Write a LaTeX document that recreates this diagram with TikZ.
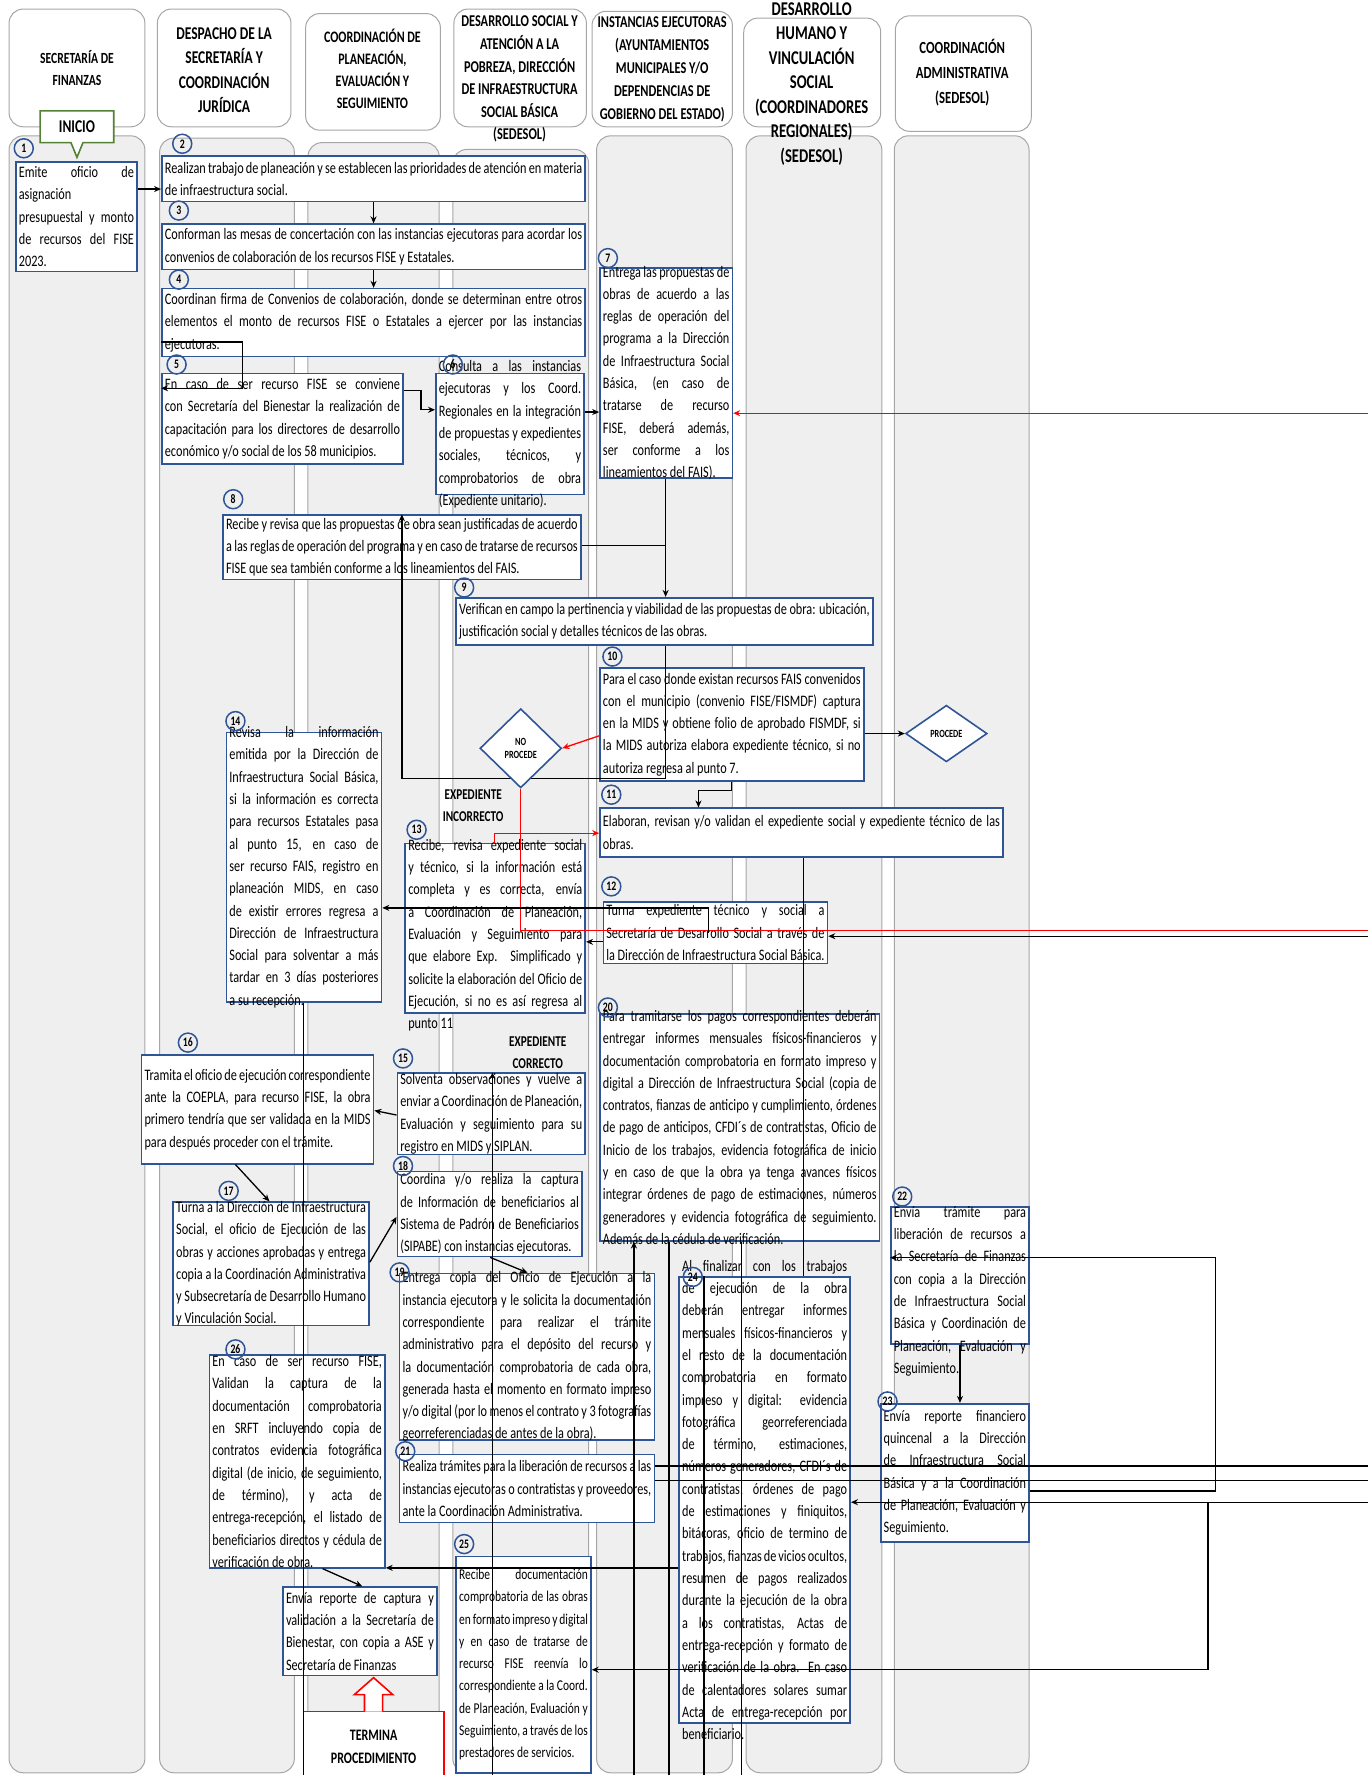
\documentclass[tikz,border=0pt]{standalone}
\usepackage{fontspec}
\setmainfont{Carlito}[FakeStretch=0.765]
\newfontfamily\hdrfam{Carlito}[FakeStretch=0.75]
\usetikzlibrary{shapes.geometric,shapes.callouts,arrows.meta}
\definecolor{boxblue}{HTML}{2F5597}
\definecolor{lanefill}{HTML}{EFEFEF}
\definecolor{laneborder}{HTML}{A6A6A6}
\definecolor{inigreen}{HTML}{548235}
\def\UU{1.1316pt}
\newcommand\btxt{\fontsize{16}{22.3}\selectfont\hyphenpenalty=10000 \exhyphenpenalty=0 \tolerance=9999 \emergencystretch=8pt }
\newcommand\hfnt[2]{\hdrfam\bfseries\fontsize{#1}{#2}\selectfont}
\newcommand\mkboxs[7]{%
  \node[boxst, minimum width={(#4-#2)*\UU}, minimum height={(#5-#3)*\UU}] (#1) at ({(#2+#4)/2},{(#3+#5)/2}) {};
  \node[txtst, text width={(#4-#2)*\UU-6pt}, yshift=#6] (#1t) at (#1.center) {#7};}
\newcommand\mkbox[6]{\mkboxs{#1}{#2}{#3}{#4}{#5}{0pt}{#6}}
\pgfdeclarelayer{top}
\pgfsetlayers{main,top}
\begin{document}
\begin{tikzpicture}[x=1.1316pt,y=-1.1316pt,
  lane/.style={draw=laneborder, fill=lanefill, rounded corners=14pt, line width=1pt},
  hdr/.style={draw=laneborder, fill=white, rounded corners=14pt, line width=1pt},
  hdrtxt/.style={align=center, inner sep=0pt},
  boxst/.style={draw=boxblue, fill=white, line width=1.6pt, inner sep=0pt},
  txtst/.style={align=justify, inner sep=0pt, font=\btxt},
  numc/.style={circle, draw=boxblue, line width=1.5pt, inner sep=0pt, minimum size=19pt, font=\hfnt{13}{13}},
  conn/.style={line width=1.3pt, draw=black},
  arr/.style={conn, -{Stealth[length=7pt,width=6pt]}},
  rconn/.style={line width=1.3pt, draw=red},
  rarr/.style={rconn, -{Stealth[length=7pt,width=6pt]}},
  lbl/.style={align=center, inner sep=0pt, font=\hfnt{15}{22}},
  dia/.style={diamond, draw=boxblue, fill=white, line width=1.6pt, inner sep=0pt, align=center, font=\hfnt{11}{13}}
]
\useasboundingbox (0,0) rectangle (1208,1568);
% lanes
\draw[lane] (8,120) rectangle (128,1566);
\draw[lane] (141,122) rectangle (260,1566);
\draw[lane] (272,126) rectangle (388,1566);
\draw[lane] (400,132) rectangle (520,1566);
\draw[lane] (527,120) rectangle (647,1566);
\draw[lane] (659,120) rectangle (779,1566);
\draw[lane] (790,120) rectangle (909,1566);
% headers
\draw[hdr] (8,8) rectangle (128,112);
\draw[hdr] (139,8) rectangle (257,112);
\draw[hdr] (270,12) rectangle (389,115);
\draw[hdr] (401,8) rectangle (518,112);
\draw[hdr] (523,10) rectangle (647,112);
\draw[hdr] (657,16) rectangle (778,112);
\draw[hdr] (791,14) rectangle (911,116);
\node[hdrtxt, font=\hfnt{15.5}{22.6}] (h1) at (68,60) {SECRETARÍA DE\\FINANZAS};
\node[hdrtxt, font=\hfnt{18}{24.1}] (h2) at (198,62) {DESPACHO DE LA\\SECRETARÍA Y\\COORDINACIÓN\\JURÍDICA};
\node[hdrtxt, font=\hfnt{16}{21.9}] (h3) at (329,61) {COORDINACIÓN DE\\PLANEACIÓN,\\EVALUACIÓN Y\\SEGUIMIENTO};
\node[hdrtxt, font=\hfnt{16.5}{22.6}] (h4) at (459,70) {DESARROLLO SOCIAL Y\\ATENCIÓN A LA\\POBREZA, DIRECCIÓN\\DE INFRAESTRUCTURA\\SOCIAL BÁSICA\\(SEDESOL)};
\node[hdrtxt, font=\hfnt{16.5}{22.9}] (h5) at (585,61) {INSTANCIAS EJECUTORAS\\(AYUNTAMIENTOS\\MUNICIPALES Y/O\\DEPENDENCIAS DE\\GOBIERNO DEL ESTADO)};
\node[hdrtxt, font=\hfnt{19.5}{24.5}] (h6) at (717,74) {DESARROLLO\\HUMANO Y\\VINCULACIÓN\\SOCIAL\\(COORDINADORES\\REGIONALES)\\(SEDESOL)};
\node[hdrtxt, font=\hfnt{17}{24.9}] (h7) at (850,64) {COORDINACIÓN\\ADMINISTRATIVA\\(SEDESOL)};
% boxes
\mkbox{b1}{14}{143}{121}{240}{Emite oficio de\linebreak asignación\\presupuestal y monto\linebreak de recursos del FISE\linebreak 2023.}
\mkbox{b2}{143}{138}{517}{178}{Realizan trabajo de planeación y se establecen las prioridades de atención en materia de infraestructura social.}
\mkbox{b3}{143}{198}{517}{238}{Conforman las mesas de concertación con las instancias ejecutoras para acordar los convenios de colaboración de los recursos FISE y Estatales.}
\mkbox{b4}{143}{255}{517}{315}{Coordinan firma de Convenios de colaboración, donde se determinan entre otros elementos el monto de recursos FISE o Estatales a ejercer por las instancias ejecutoras.}
\mkbox{b5}{143}{330}{356}{410}{En caso de ser recurso FISE se conviene con Secretaría del Bienestar la realización de capacitación para los directores de desarrollo económico y/o social de los 58 municipios.}
\mkbox{b6}{385}{330}{516}{437}{Consulta a las instancias ejecutoras y los Coord. Regionales en la integración de propuestas y expedientes sociales, técnicos, y comprobatorios de obra (Expediente unitario).}
\mkbox{b7}{530}{237}{647}{422}{Entrega las propuestas de obras de acuerdo a las reglas de operación del programa a la Dirección de Infraestructura Social Básica, (en caso de tratarse de recurso FISE, deberá además, ser conforme a los lineamientos del FAIS).}
\mkbox{b8}{197}{455}{513}{512}{Recibe y revisa que las propuestas de obra sean justificadas de acuerdo a las reglas de operación del programa y en caso de tratarse de recursos FISE que sea también conforme a los lineamientos del FAIS.}
\mkbox{b9}{403}{528}{771}{570}{Verifican en campo la pertinencia y viabilidad de las propuestas de obra: ubicación, justificación social y detalles técnicos de las obras.}
\mkbox{b10}{530}{590}{763}{690}{Para el caso donde existan recursos FAIS convenidos con el municipio (convenio FISE/FISMDF) captura en la MIDS y obtiene folio de aprobado FISMDF, si la MIDS autoriza elabora expediente técnico, si no autoriza regresa al punto 7.}
\mkbox{b11}{530}{714}{886}{757}{Elaboran, revisan y/o validan el expediente social y expediente técnico de las obras.}
\mkbox{b12}{533}{797}{731}{851}{Turna expediente técnico y social a Secretaría de Desarrollo Social a través de la Dirección de Infraestructura Social Básica.}
\mkboxs{b13}{358}{745}{517}{895}{-7pt}{Recibe, revisa expediente social y técnico, si la información está completa y es correcta, envía a Coordinación de Planeación, Evaluación y Seguimiento para que elabore Exp. Simplificado y solicite la elaboración del Oficio de Ejecución, si no es así regresa al punto 11}
\mkbox{b14}{200}{647}{337}{885}{Revisa la información emitida por la Dirección de Infraestructura Social Básica, si la información es correcta para recursos Estatales pasa al punto 15, en caso de ser recurso FAIS, registro en planeación MIDS, en caso de existir errores regresa a Dirección de Infraestructura Social para solventar a más tardar en 3 días posteriores a su recepción.}
\mkbox{b15}{351}{948}{517}{1020}{Solventa observaciones y vuelve a enviar a Coordinación de Planeación, Evaluación y seguimiento para su registro en MIDS y SIPLAN.}
\mkbox{b16}{125}{932}{330}{1028}{Tramita el oficio de ejecución correspondiente ante la COEPLA, para recurso FISE, la obra primero tendría que ser validada en la MIDS para después proceder con el trámite.}
\mkbox{b17}{153}{1062}{326}{1171}{Turna a la Dirección de Infraestructura Social, el oficio de Ejecución de las obras y acciones aprobadas y entrega copia a la Coordinación Administrativa y Subsecretaría de Desarrollo Humano y Vinculación Social.}
\mkbox{b18}{351}{1035}{514}{1110}{Coordina y/o realiza la captura de Información de beneficiarios al Sistema de Padrón de Beneficiarios (SIPABE) con instancias ejecutoras.}
\mkbox{b19}{353}{1125}{578}{1272}{Entrega copia del Oficio de Ejecución a la instancia ejecutora y le solicita la documentación correspondiente para realizar el trámite administrativo para el depósito del recurso y la documentación comprobatoria de cada obra, generada hasta el momento en formato impreso y/o digital (por lo menos el contrato y 3 fotografías georreferenciadas de antes de la obra).}
\mkbox{b20}{530}{896}{777}{1096}{Para tramitarse los pagos correspondientes deberán entregar informes mensuales físicos-financieros y documentación comprobatoria en formato impreso y digital a Dirección de Infraestructura Social (copia de contratos, fianzas de anticipo y cumplimiento, órdenes de pago de anticipos, CFDI´s de contratistas, Oficio de Inicio de los trabajos, evidencia fotográfica de inicio y en caso de que la obra ya tenga avances físicos integrar órdenes de pago de estimaciones, números generadores y evidencia fotográfica de seguimiento. Además de la cédula de verificación.}
\mkbox{b21}{353}{1285}{578}{1345}{Realiza trámites para la liberación de recursos a las instancias ejecutoras o contratistas y proveedores, ante la Coordinación Administrativa.}
\mkboxs{b22}{787}{1066}{909}{1187}{-16pt}{Envía trámite para liberación de recursos a la Secretaría de Finanzas con copia a la Dirección de Infraestructura Social Básica y Coordinación de Planeación, Evaluación y Seguimiento.}
\mkbox{b23}{778}{1240}{909}{1362}{Envía reporte financiero quincenal a la Dirección de Infraestructura Social Básica y a la Coordinación de Planeación, Evaluación y Seguimiento.}
\mkbox{b24}{600}{1128}{751}{1522}{Al finalizar con los trabajos de ejecución de la obra deberán entregar informes mensuales físicos-financieros y el resto de la documentación comprobatoria en formato impreso y digital: evidencia fotográfica georreferenciada de término, estimaciones, números generadores, CFDI´s de contratistas, órdenes de pago de estimaciones y finiquitos, bitácoras, oficio de termino de trabajos, fianzas de vicios ocultos, resumen de pagos realizados durante la ejecución de la obra a los contratistas, Actas de entrega-recepción y formato de verificación de la obra. En caso de calentadores solares sumar Acta de entrega-recepción por beneficiario.}
\mkbox{b25}{403}{1375}{522}{1566}{\fontsize{15}{22.3}\selectfont Recibe documentación comprobatoria de las obras en formato impreso y digital y en caso de tratarse de recurso FISE reenvía lo correspondiente a la Coord. de Planeación, Evaluación y Seguimiento, a través de los prestadores de servicios.}
\mkbox{b26}{185}{1197}{340}{1385}{En caso de ser recurso FISE, Validan la captura de la documentación comprobatoria en SRFT incluyendo copia de contratos evidencia fotográfica digital (de inicio, de seguimiento, de término), y acta de entrega-recepción, el listado de beneficiarios directos y cédula de verificación de obra.}
\mkbox{b27}{250}{1402}{386}{1480}{Envía reporte de captura y validación a la Secretaría de Bienestar, con copia a ASE y Secretaría de Finanzas}
% start / end
\node[rectangle callout, draw=inigreen, fill=white, line width=1.6pt, minimum width={65*\UU}, minimum height={28*\UU}, inner sep=0pt, callout absolute pointer={(68,139)}, callout pointer width=12pt, font=\hfnt{18}{18}] (ini) at (68,112) {INICIO};
\node[draw=red, fill=white, line width=1.6pt, minimum width={124*\UU}, minimum height={62*\UU}, inner sep=0pt, align=center, font=\hfnt{16}{23}] (fin) at (330,1543) {TERMINA\\PROCEDIMIENTO};
\draw[draw=red, fill=white, line width=1.6pt] (322,1512) -- (322,1497) -- (313,1497) -- (330,1482) -- (347,1497) -- (338,1497) -- (338,1512);
% decisions (on top layer)
\begin{pgfonlayer}{top}
\node[dia, minimum width={72*\UU}, minimum height={70*\UU}] (np) at (460,661) {NO\\PROCEDE};
\node[dia, minimum width={72*\UU}, minimum height={50*\UU}] (proc) at (836,648) {PROCEDE};
\end{pgfonlayer}
% free ends
\coordinate (R365) at (1212,365);
\coordinate (R822) at (1212,822);
\coordinate (R826) at (1212,827);
\coordinate (R1295) at (1212,1295);
\coordinate (R1308) at (1212,1308);
\coordinate (R1327) at (1212,1327);
\coordinate (B268) at (268,1575);
\coordinate (B435) at (435,1575);
\coordinate (B560) at (560,1575);
\coordinate (B591) at (591,1575);
\coordinate (B622) at (622,1575);
\coordinate (B655) at (655,1575);
% connectors
\draw[arr] (b1.east |- 0,167) -- (b2.west |- 0,167);
\draw[arr] (b2.south) -- (b3.north);
\draw[arr] (b3.south) -- (b4.north);
\draw[arr] (b4.west |- 0,302) -- (214,302) -- (214,343) -- (b5.west |- 0,343);
\draw[arr] (b5.east |- 0,345) -- (372,345) -- (372,362) -- (b6.west |- 0,362);
\draw[arr] (b6.east |- 0,364) -- (b7.west |- 0,364);
\draw[rarr] (R365) -- (b7.east |- R365);
\draw[arr] (b7.south -| 588,0) -- (b9.north -| 588,0);
\draw[conn] (b8.east |- 0,482) -- (588,482);
\draw[arr] (b9.south -| 588,0) -- (588,688) -- (355,688) -- (b8.north -| 355,0);
\draw[rarr] (b10.west |- 0,650) -- (np.east);
\draw[arr] (b10.east |- 0,648) -- (proc.west);
\draw[rconn] (np.south) -- (460,822) -- (R822);
\draw[rarr] (b13.north -| 437,0) -- (437,736) -- (b11.west |- 0,736);
\draw[arr] (b10.south -| 646,0) -- (646,698) -- (617,698) -- (b11.north -| 617,0);
\draw[conn] (b11.south -| 710,0) -- (b24.north -| 710,0);
\draw[arr] (b12.center -| 626,0) -- (626,802) -- (b14.east |- 0,802);
\draw[arr] (R826) -- (b12.east |- R826);
\draw[arr] (b12.west |- 0,832) -- (b13.east |- 0,832);
\draw[conn] (b14.south -| 268,0) -- (B268);
\draw[arr] (B435) -- (b15.north -| 435,0);
\draw[arr] (b15.west |- 0,985) -- (b16.east |- 0,981);
\draw[arr] (b16.south -| 208,0) -- (b17.north -| 238,0);
\draw[arr] (b17.east |- 0,1115) -- (b18.west |- 0,1075);
\draw[arr] (b18.south -| 433,0) -- (b19.north -| 466,0);
\draw[arr] (B560) -- (b20.south -| 560,0);
\draw[conn] (b20.south -| 591,0) -- (B591);
\draw[conn] (b24.north -| 622,0) -- (B622);
\draw[conn] (b20.south -| 655,0) -- (B655);
\draw[arr] (b22.south -| 848,0) -- (b23.north -| 848,0);
\draw[arr] (b23.east |- 0,1317) -- (1074,1317) -- (1074,1111) -- (b22.west |- 0,1111);
\draw[conn] (R1295) -- (b21.east |- R1295);
\draw[conn] (R1308) -- (b21.east |- R1308);
\draw[arr] (R1327) -- (b24.east |- R1327);
\draw[arr] (1067,1327) -- (1067,1475) -- (b25.east |- 0,1475);
\draw[arr] (b24.west |- 0,1385) -- (b26.east |- 0,1385);
\draw[arr] (b26.south -| 285,0) -- (b27.north -| 320,0);
% labels
\node[lbl] (ei) at (418,712) {EXPEDIENTE\\INCORRECTO};
\node[lbl] (ec) at (475,930) {EXPEDIENTE\\CORRECTO};
% number circles
\node[numc] (n1) at (21,131) {1};
\node[numc] (n2) at (161,127) {2};
\node[numc] (n3) at (158,186) {3};
\node[numc] (n4) at (158,247) {4};
\node[numc] (n5) at (156,322) {5};
\node[numc] (n6) at (400,322) {6};
\node[numc] (n7) at (537,228) {7};
\node[numc] (n8) at (206,441) {8};
\node[numc] (n9) at (410,519) {9};
\node[numc] (n10) at (541,580) {10};
\node[numc] (n11) at (540,702) {11};
\node[numc] (n12) at (540,783) {12};
\node[numc] (n13) at (368,733) {13};
\node[numc] (n14) at (208,637) {14};
\node[numc] (n15) at (356,935) {15};
\node[numc] (n16) at (166,921) {16};
\node[numc] (n17) at (202,1052) {17};
\node[numc] (n18) at (356,1030) {18};
\node[numc] (n19) at (353,1124) {19};
\node[numc] (n20) at (537,890) {20};
\node[numc] (n21) at (358,1282) {21};
\node[numc] (n22) at (797,1057) {22};
\node[numc] (n23) at (784,1238) {23};
\node[numc] (n24) at (612,1128) {24};
\node[numc] (n25) at (410,1364) {25};
\node[numc] (n26) at (208,1192) {26};
\end{tikzpicture}
\end{document}
